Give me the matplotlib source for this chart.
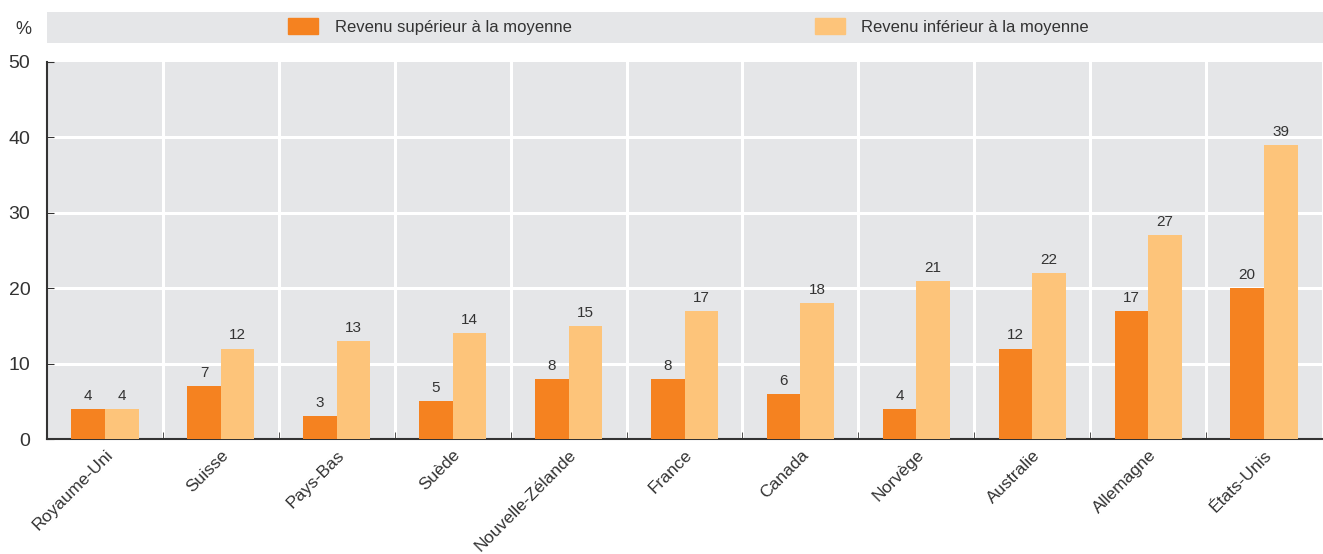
import numpy as np
import matplotlib.pyplot as plt
from matplotlib.patches import Rectangle

countries = ['Royaume-Uni', 'Suisse', 'Pays-Bas', 'Suède', 'Nouvelle-Zélande', 'France',
             'Canada', 'Norvège', 'Australie', 'Allemagne', 'États-Unis']
above_avg = [4, 7, 3, 5, 8, 8, 6, 4, 12, 17, 20]
below_avg = [4, 12, 13, 14, 15, 17, 18, 21, 22, 27, 39]
series_names = ['Revenu supérieur à la moyenne', 'Revenu inférieur à la moyenne']

c_dark = '#F58220'
c_light = '#FDC47A'
bg = '#E5E6E8'
txt = '#333333'

plt.rcParams['font.family'] = ['Liberation Sans', 'DejaVu Sans']

fig = plt.figure(figsize=(13.23, 5.54), dpi=100)
ax = fig.add_axes([47/1323, 1-439/554, 1275/1323, 377/554])
ax.set_facecolor(bg)

x = np.arange(len(countries))
w = 0.29
b1 = ax.bar(x - w/2, above_avg, w, color=c_dark, zorder=3)
b2 = ax.bar(x + w/2, below_avg, w, color=c_light, zorder=3)
for bars, vals in [(b1, above_avg), (b2, below_avg)]:
    for r, v in zip(bars, vals):
        ax.text(r.get_x() + r.get_width()/2, v + 0.8, str(v), ha='center', va='bottom',
                fontsize=11, color=txt)

ax.set_xlim(-0.5, len(countries) - 0.5)
ax.set_ylim(0, 50)
ax.set_yticks(range(0, 51, 10))
ax.tick_params(axis='y', direction='in', length=5, pad=12, labelsize=14,
               labelcolor=txt, color=txt)
for y in range(10, 50, 10):
    ax.axhline(y, color='white', lw=2.2, zorder=1)
for b in np.arange(0.5, len(countries) - 0.5):
    ax.axvline(b, color='white', lw=2.2, zorder=1)

ax.set_xticks(np.arange(0.5, len(countries) - 0.5), minor=True)
ax.tick_params(axis='x', which='minor', direction='in', length=5, color=txt)
ax.set_xticks(x)
ax.set_xticklabels(countries, rotation=45, ha='right', rotation_mode='anchor',
                   fontsize=12.5, color=txt)
ax.tick_params(axis='x', which='major', length=0, pad=6)

for s in ['top', 'right']:
    ax.spines[s].set_visible(False)
ax.spines['left'].set_color(txt)
ax.spines['bottom'].set_color(txt)
ax.spines['left'].set_linewidth(1.5)
ax.spines['bottom'].set_linewidth(1.5)

fig.text(23/1323, 1-30/554, '%', ha='center', va='center', fontsize=13, color=txt)

# legend strip
lax = fig.add_axes([47/1323, 1-43/554, 1276/1323, 31/554])
lax.set_facecolor(bg)
lax.set_xlim(0, 1)
lax.set_ylim(0, 1)
lax.set_xticks([])
lax.set_yticks([])
for s in lax.spines.values():
    s.set_visible(False)
for x0, xt, col, name in [(0.189, 0.2257, c_dark, series_names[0]),
                          (0.602, 0.638, c_light, series_names[1])]:
    lax.add_patch(Rectangle((x0, 0.28), 0.0235, 0.52, color=col))
    lax.text(xt, 0.5, name, ha='left', va='center', fontsize=12, color=txt)

fig.savefig('out.png', dpi=100)
